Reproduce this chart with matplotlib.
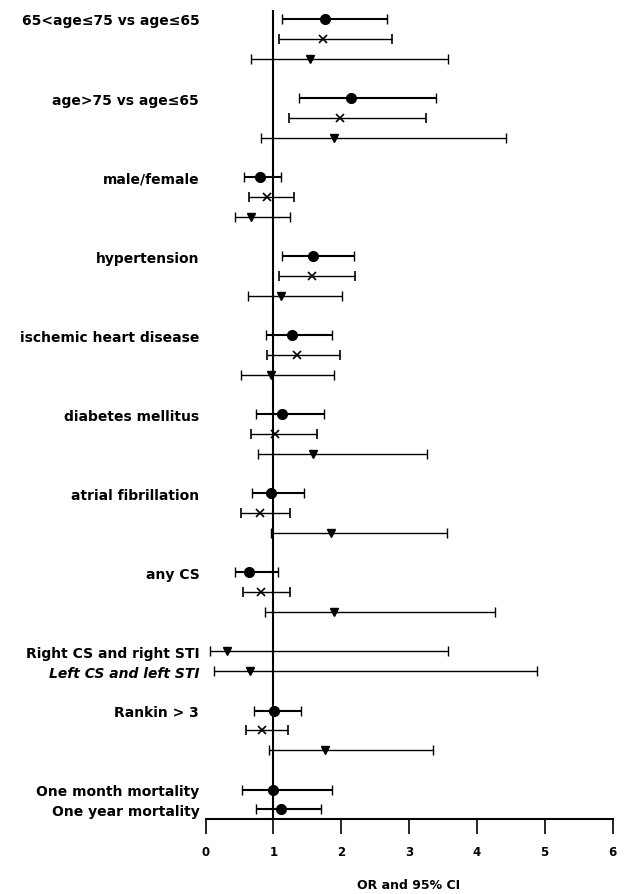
import matplotlib
matplotlib.use('Agg')
import matplotlib.pyplot as plt

# risk factors shown with all three models
factors = ['65<age≤75 vs age≤65', 'age>75 vs age≤65', 'male/female', 'hypertension',
           'ischemic heart disease', 'diabetes mellitus', 'atrial fibrillation', 'any CS']
side_labels = ['Right CS and right STI', 'Left CS and left STI']
rankin_label = 'Rankin > 3'
mortality_labels = ['One month mortality', 'One year mortality']

# filled circle series: factors, Rankin, one month, one year
circle_or = [1.76, 2.15, 0.80, 1.58, 1.28, 1.13, 0.97, 0.64, 1.01, 0.99, 1.12]
circle_lo = [1.13, 1.38, 0.57, 1.13, 0.89, 0.74, 0.68, 0.44, 0.72, 0.54, 0.74]
circle_hi = [2.68, 3.40, 1.12, 2.19, 1.86, 1.75, 1.45, 1.07, 1.41, 1.87, 1.70]

# cross series: factors, Rankin
cross_or = [1.73, 1.99, 0.91, 1.57, 1.35, 1.03, 0.81, 0.82, 0.84]
cross_lo = [1.08, 1.23, 0.64, 1.09, 0.91, 0.67, 0.53, 0.55, 0.60]
cross_hi = [2.75, 3.25, 1.30, 2.21, 1.99, 1.65, 1.25, 1.25, 1.21]

# triangle series: factors, right CS, left CS, Rankin
tri_or = [1.54, 1.89, 0.67, 1.11, 0.97, 1.59, 1.85, 1.90, 0.32, 0.65, 1.76]
tri_lo = [0.67, 0.82, 0.43, 0.62, 0.52, 0.78, 0.97, 0.87, 0.06, 0.12, 0.93]
tri_hi = [3.58, 4.43, 1.24, 2.01, 1.89, 3.26, 3.56, 4.27, 3.57, 4.89, 3.35]

xticks = [0, 1, 2, 3, 4, 5, 6]

# row layout (None = empty row)
rows = []
for f in factors:
    rows += [(f, 'o'), ('', 'x'), ('', 'v'), None]
rows += [(side_labels[0], 'v'), (side_labels[1], 'v'), None]
rows += [(rankin_label, 'o'), ('', 'x'), ('', 'v'), None]
rows += [(mortality_labels[0], 'o'), (mortality_labels[1], 'o')]

series = {
    'o': dict(val=circle_or, lo=circle_lo, hi=circle_hi, pos=[], ms=7, lw=1.5, mew=1),
    'x': dict(val=cross_or, lo=cross_lo, hi=cross_hi, pos=[], ms=6, lw=1.0, mew=1.2),
    'v': dict(val=tri_or, lo=tri_lo, hi=tri_hi, pos=[], ms=5.5, lw=1.0, mew=1),
}

tick_pos = []
tick_lab = []
for i, r in enumerate(rows):
    if r is None:
        continue
    label, key = r
    series[key]['pos'].append(i)
    if label:
        tick_pos.append(i)
        tick_lab.append(label)

fig = plt.figure(figsize=(6.25, 8.95), dpi=100)
ax = fig.add_axes([0.3288, 0.0838, 0.6512, 0.9039])

for key, s in series.items():
    val = s['val']
    err = [[v - l for v, l in zip(val, s['lo'])], [h - v for v, h in zip(val, s['hi'])]]
    ax.errorbar(val, s['pos'], xerr=err, fmt=key, color='black', ms=s['ms'],
                mew=s['mew'], elinewidth=s['lw'], capsize=3.5, capthick=1.0, zorder=3)

ax.axvline(1, color='black', lw=1.5, zorder=2)

ax.set_xlim(0, 6)
ax.set_ylim(40.49, -0.455)
ax.set_xticks(xticks)
ax.set_xticklabels([str(t) for t in xticks], fontweight='bold', fontsize=8.5)
ax.set_yticks(tick_pos)
ax.set_yticklabels(tick_lab, fontweight='bold', fontsize=10)
for t in ax.get_yticklabels():
    if t.get_text().startswith('Left'):
        t.set_fontstyle('italic')

ax.tick_params(axis='y', length=0, pad=4.5)
ax.tick_params(axis='x', direction='out', length=11, width=1.2, pad=8)
for side in ['top', 'right', 'left']:
    ax.spines[side].set_visible(False)
ax.spines['bottom'].set_linewidth(1.5)

ax.set_xlabel('OR and 95% CI', fontweight='bold', fontsize=9, labelpad=14)

plt.savefig('out.png', dpi=100)
plt.close()
